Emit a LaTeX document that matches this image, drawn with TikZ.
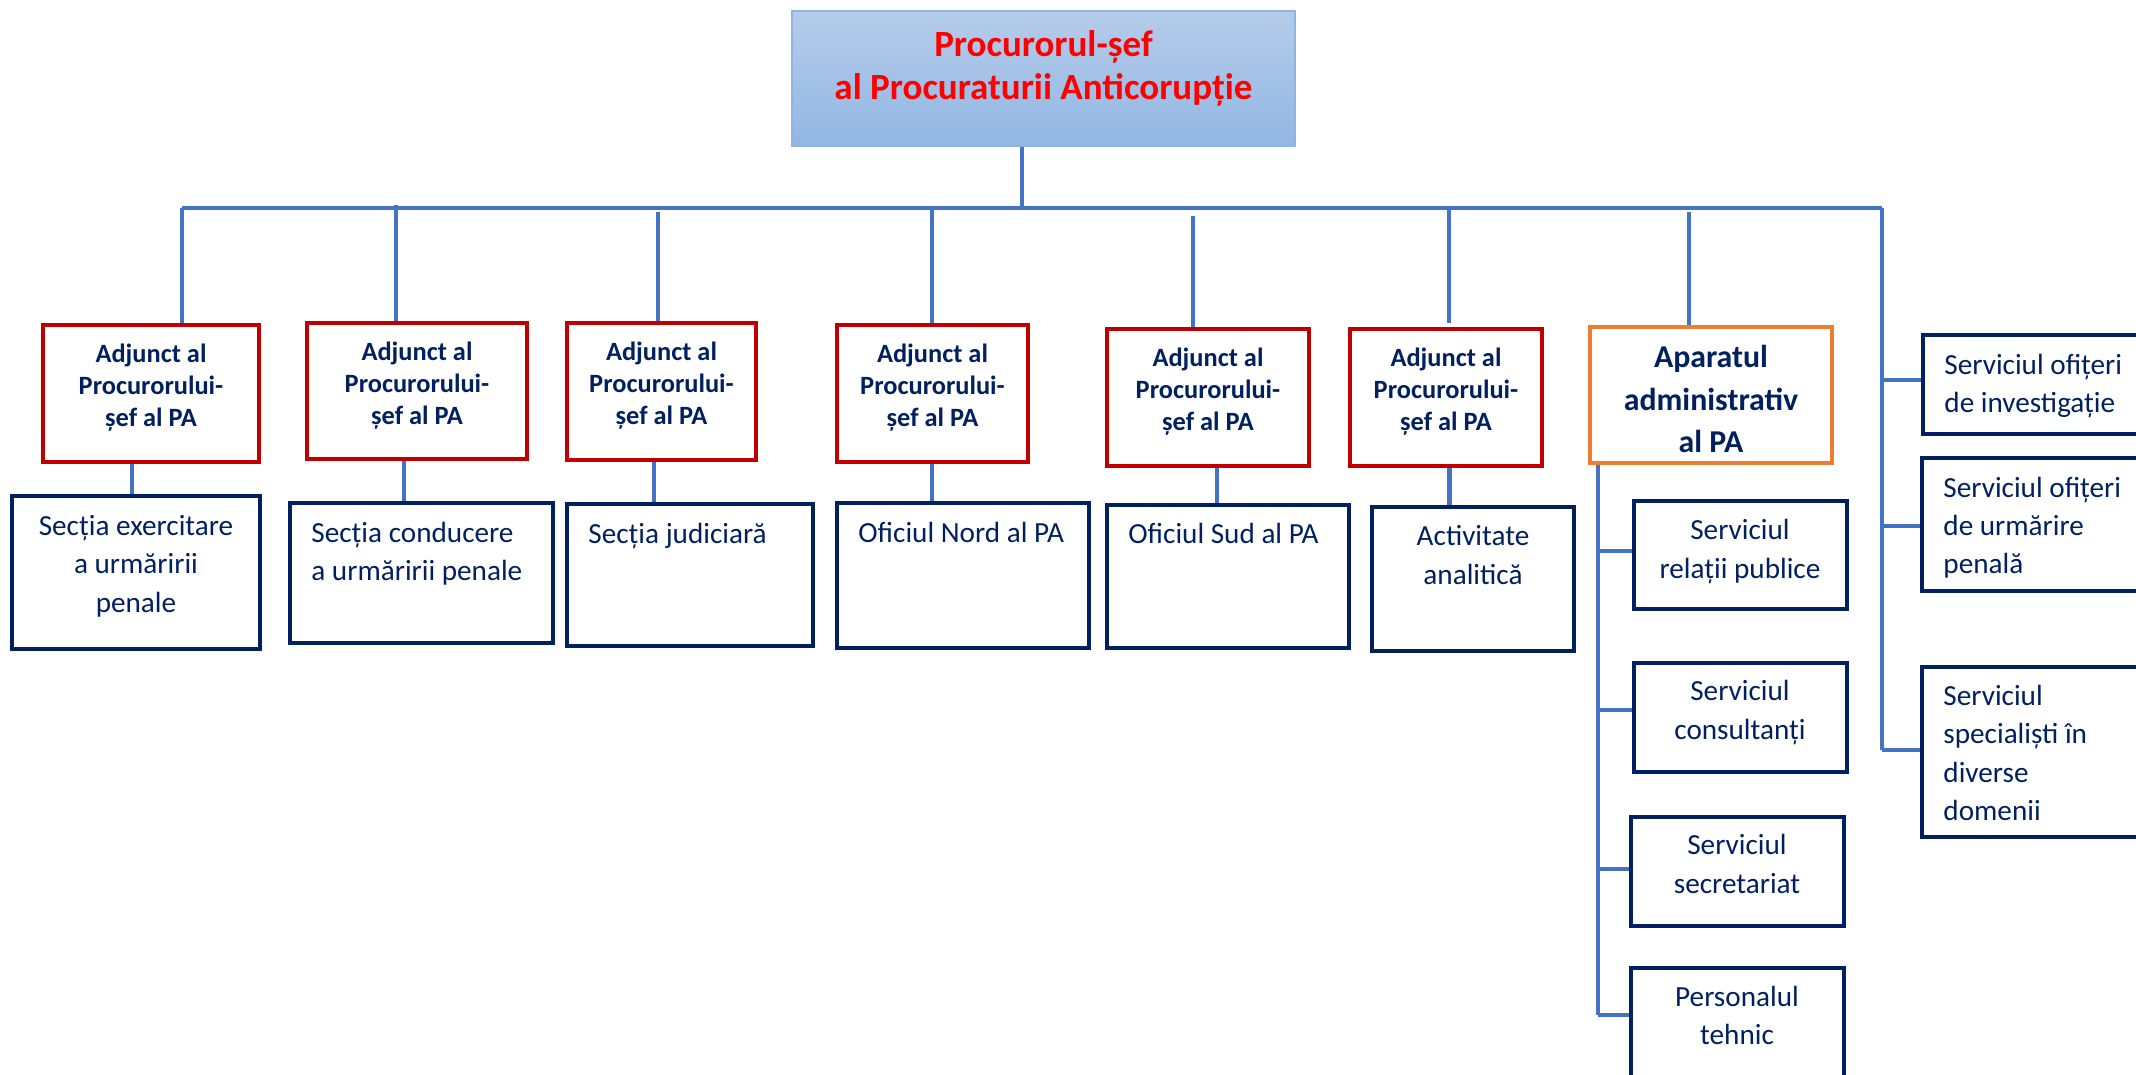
\documentclass[tikz,border=0pt]{standalone}
\usepackage{fontspec}
\setmainfont{Carlito}
\usetikzlibrary{fit,backgrounds}
\definecolor{navy}{RGB}{0,32,96}
\definecolor{conn}{RGB}{68,114,196}
\definecolor{redb}{RGB}{192,0,0}
\definecolor{orng}{RGB}{237,125,49}
\definecolor{topA}{RGB}{181,204,234}
\definecolor{topB}{RGB}{146,183,227}
\definecolor{topE}{RGB}{141,180,226}
\tikzset{
  box/.style={inner sep=0pt, line width=1.6pt},
  adj/.style={box, draw=redb},
  unit/.style={box, draw=navy},
  admin/.style={box, draw=orng},
  chief/.style={inner sep=0pt, draw=topE, line width=1pt, top color=topA, bottom color=topB},
  bus/.style={draw=conn, line width=2.3pt},
  thinc/.style={draw=conn, line width=1.7pt},
  thickc/.style={draw=conn, line width=2.5pt},
  txt/.style={inner sep=0pt, text=navy, font=\fontsize{14.6}{19}\selectfont},
  btxt/.style={inner sep=0pt, text=navy, font=\bfseries\fontsize{13.2}{16}\selectfont},
  atxt/.style={inner sep=0pt, text=navy, font=\bfseries\fontsize{15.9}{21}\selectfont},
  ctxt/.style={inner sep=0pt, text=red, font=\bfseries\fontsize{18.5}{22}\selectfont},
}
\newcommand\tl[5]{\node[#1] (#2) at (#3,#4) {#5};}
\newcommand\adjtxt[3]{%
  \tl{btxt,anchor=base}{#1a}{#2}{#3+37}{Adjunct al}
  \tl{btxt,anchor=base}{#1b}{#2}{#3+69}{Procurorului-}
  \tl{btxt,anchor=base}{#1c}{#2}{#3+101}{șef al PA}}
\begin{document}
\begin{tikzpicture}[x=0.5pt,y=-0.5pt]
\clip (0,0) rectangle (2136,1075);
% chief
\node[chief, fit={(792,11)(1295,146)}] (chief) {};
\tl{ctxt,anchor=base}{chA}{1043.5}{57}{Procurorul-șef}
\tl{ctxt,anchor=base}{chB}{1043.5}{100}{al Procuraturii Anticorupție}
% deputies
\node[adj, fit={(43,325)(259,462)}] (a1) {};
\node[adj, fit={(307,323)(527,459)}] (a2) {};
\node[adj, fit={(567,323)(756,460)}] (a3) {};
\node[adj, fit={(837,325)(1028,462)}] (a4) {};
\node[adj, fit={(1107,329)(1309,466)}] (a5) {};
\node[adj, fit={(1350,329)(1542,466)}] (a6) {};
\adjtxt{ta1}{151}{325}
\adjtxt{ta2}{417}{323}
\adjtxt{ta3}{661.5}{323}
\adjtxt{ta4}{932.5}{325}
\adjtxt{ta5}{1208}{329}
\adjtxt{ta6}{1446}{329}
% administrative apparatus
\node[admin, fit={(1590,327)(1832,463)}] (adm) {};
\tl{atxt,anchor=base}{tadA}{1711}{367}{Aparatul}
\tl{atxt,anchor=base}{tadB}{1711}{410}{administrativ}
\tl{atxt,anchor=base}{tadC}{1711}{452}{al PA}
% sections
\node[unit, fit={(12,496)(260,649)}] (l1) {};
\node[unit, fit={(290,503)(553,643)}] (l2) {};
\node[unit, fit={(567,504)(813,646)}] (l3) {};
\node[unit, fit={(837,503)(1089,648)}] (l4) {};
\node[unit, fit={(1107,505)(1349,648)}] (l5) {};
\node[unit, fit={(1372,507)(1574,651)}] (l6) {};
\tl{txt,anchor=base}{tl1a}{136}{535}{Secția exercitare}
\tl{txt,anchor=base}{tl1b}{136}{573}{a urmăririi}
\tl{txt,anchor=base}{tl1c}{136}{612}{penale}
\tl{txt,anchor=base west}{tl2a}{311}{542}{Secția conducere}
\tl{txt,anchor=base west}{tl2b}{311}{580}{a urmăririi penale}
\tl{txt,anchor=base west}{tl3a}{588}{543}{Secția judiciară}
\tl{txt,anchor=base west}{tl4a}{858}{542}{Oficiul Nord al PA}
\tl{txt,anchor=base west}{tl5a}{1128}{543}{Oficiul Sud al PA}
\tl{txt,anchor=base}{tl6a}{1473}{545}{Activitate}
\tl{txt,anchor=base}{tl6b}{1473}{584}{analitică}
% services under the apparatus
\node[unit, fit={(1634,501)(1847,609)}] (s1) {};
\node[unit, fit={(1634,663)(1847,772)}] (s2) {};
\node[unit, fit={(1631,817)(1844,926)}] (s3) {};
\node[unit, fit={(1631,968)(1844,1110)}] (s4) {};
\tl{txt,anchor=base}{ts1a}{1740}{539}{Serviciul}
\tl{txt,anchor=base}{ts1b}{1740}{578}{relații publice}
\tl{txt,anchor=base}{ts2a}{1740}{700}{Serviciul}
\tl{txt,anchor=base}{ts2b}{1740}{739}{consultanți}
\tl{txt,anchor=base}{ts3a}{1737}{854}{Serviciul}
\tl{txt,anchor=base}{ts3b}{1737}{893}{secretariat}
\tl{txt,anchor=base}{ts4a}{1737}{1006}{Personalul}
\tl{txt,anchor=base}{ts4b}{1737}{1044}{tehnic}
% right column
\node[unit, fit={(1923,335)(2200,434)}] (r1) {};
\node[unit, fit={(1922,458)(2200,591)}] (r2) {};
\node[unit, fit={(1922,667)(2200,837)}] (r3) {};
\tl{txt,anchor=base west}{tr1a}{1944}{374}{Serviciul ofițeri}
\tl{txt,anchor=base west}{tr1b}{1944}{412}{de investigație}
\tl{txt,anchor=base west}{tr2a}{1943}{497}{Serviciul ofițeri}
\tl{txt,anchor=base west}{tr2b}{1943}{535}{de urmărire}
\tl{txt,anchor=base west}{tr2c}{1943}{573}{penală}
\tl{txt,anchor=base west}{tr3a}{1943}{705}{Serviciul}
\tl{txt,anchor=base west}{tr3b}{1943}{743}{specialiști în}
\tl{txt,anchor=base west}{tr3c}{1943}{782}{diverse}
\tl{txt,anchor=base west}{tr3d}{1943}{820}{domenii}
% connector coordinates
\coordinate (busL) at (182,208);
\coordinate (busR) at (1882,208);
\coordinate (v0) at (1022,208);
\coordinate (v2) at (396,205);
\coordinate (v3) at (658,212);
\coordinate (v4) at (932,208);
\coordinate (v5) at (1193,216);
\coordinate (v6) at (1449,208);
\coordinate (v6e) at (1449,323);
\coordinate (v7) at (1689,212);
\coordinate (k1) at (132,0);
\coordinate (k2) at (404,0);
\coordinate (k3) at (654,0);
\coordinate (k4) at (932,464);
\coordinate (k5) at (1217,0);
\coordinate (k6) at (1449,0);
\coordinate (ad) at (1598,0);
\coordinate (b1) at (1598,551);
\coordinate (b2) at (1598,710);
\coordinate (b3) at (1598,869);
\coordinate (b4) at (1598,1015);
\coordinate (q1) at (1882,380);
\coordinate (q2) at (1882,526);
\coordinate (q3) at (1882,750);
\begin{scope}[on background layer]
\draw[bus] (chief.south -| v0) -- (v0);
\draw[bus] (busL) -- (busR);
\draw[bus] (busL) -- (busL |- a1.north);
\draw[bus] (v2) -- (v2 |- a2.north);
\draw[bus] (v3) -- (v3 |- a3.north);
\draw[bus] (v4) -- (v4 |- a4.north);
\draw[bus] (v5) -- (v5 |- a5.north);
\draw[bus] (v6) -- (v6e);
\draw[bus] (v7) -- (v7 |- adm.north);
\draw[bus] (busR) -- (q3);
\draw[thinc] (q1) -- (q1 -| r1.west);
\draw[thinc] (q2) -- (q2 -| r2.west);
\draw[thinc] (q3) -- (q3 -| r3.west);
\draw[thinc] (k1 |- a1.south) -- (k1 |- l1.north);
\draw[thinc] (k2 |- a2.south) -- (k2 |- l2.north);
\draw[thinc] (k3 |- a3.south) -- (k3 |- l3.north);
\draw[thinc] (k4) -- (k4 |- l4.north);
\draw[thinc] (k5 |- a5.south) -- (k5 |- l5.north);
\draw[thickc] (k6 |- a6.south) -- (k6 |- l6.north);
\draw[thinc] (ad |- adm.south) -- (b4);
\draw[thinc] (b1) -- (b1 -| s1.west);
\draw[thinc] (b2) -- (b2 -| s2.west);
\draw[thinc] (b3) -- (b3 -| s3.west);
\draw[thinc] (b4) -- (b4 -| s4.west);
\end{scope}
\end{tikzpicture}
\end{document}
